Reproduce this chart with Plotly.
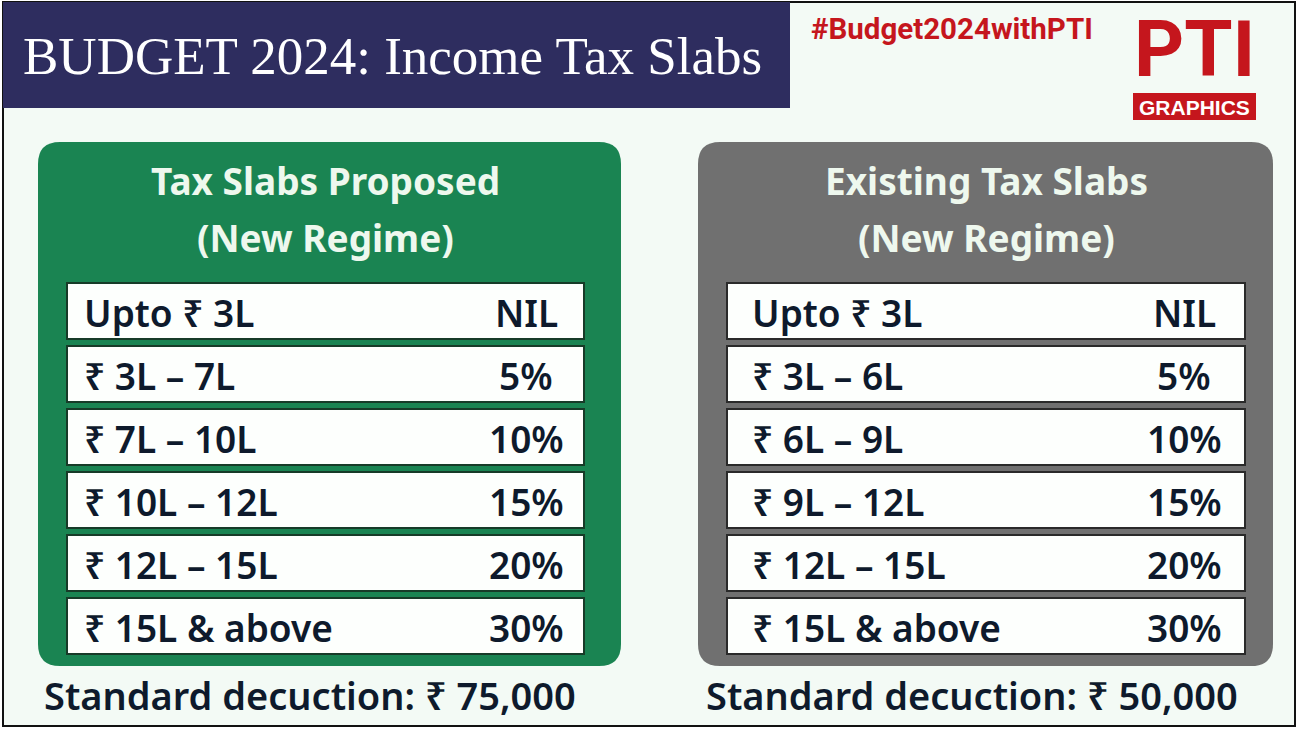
import plotly.graph_objects as go

# ---------------- data ----------------
title_text = "BUDGET 2024: Income Tax Slabs"
hashtag = "#Budget2024withPTI"
panel_titles = ["Tax Slabs Proposed<br>(New Regime)", "Existing Tax Slabs<br>(New Regime)"]
proposed_slabs = ["Upto ₹ 3L", "₹ 3L – 7L", "₹ 7L – 10L", "₹ 10L – 12L", "₹ 12L – 15L", "₹ 15L & above"]
proposed_rates = ["NIL", "5%", "10%", "15%", "20%", "30%"]
existing_slabs = ["Upto ₹ 3L", "₹ 3L – 6L", "₹ 6L – 9L", "₹ 9L – 12L", "₹ 12L – 15L", "₹ 15L & above"]
existing_rates = ["NIL", "5%", "10%", "15%", "20%", "30%"]
deductions = ["Standard decuction: ₹ 75,000", "Standard decuction: ₹ 50,000"]

# ---------------- styling ----------------
W, H = 1309, 729
BG = "#f3faf5"
NAVY = "#2e2d5f"
GREEN = "#1a8452"
GREY = "#707070"
DARK = "#0e1a2c"
RED = "#c5161d"
SANS = "Noto Sans"

def rrect(x0, y0, x1, y1, r):
    return (f"M{x0+r},{y0} L{x1-r},{y0} Q{x1},{y0} {x1},{y0+r} "
            f"L{x1},{y1-r} Q{x1},{y1} {x1-r},{y1} L{x0+r},{y1} "
            f"Q{x0},{y1} {x0},{y1-r} L{x0},{y0+r} Q{x0},{y0} {x0+r},{y0} Z")

shapes = []
ann = []

# page background + frame
shapes.append(dict(type="rect", x0=0, y0=0, x1=W, y1=H, fillcolor="#ffffff", line=dict(width=0), layer="below"))
shapes.append(dict(type="rect", x0=3, y0=2, x1=1295, y1=726, fillcolor=BG, line=dict(color="#111111", width=2), layer="below"))
# title band
shapes.append(dict(type="rect", x0=3, y0=2, x1=790, y1=108, fillcolor=NAVY, line=dict(width=0)))
ann.append(dict(x=21, y=56, text=title_text, xanchor="left", yanchor="middle", showarrow=False,
                font=dict(family="Liberation Serif", size=53, color="#ffffff")))
# hashtag
ann.append(dict(x=809, y=29, text=hashtag, xanchor="left", yanchor="middle", showarrow=False,
                font=dict(family="Roboto", size=29.5, color=RED, weight="bold")))
# PTI logo
ann.append(dict(x=1194, y=49, text="PTI", xanchor="center", yanchor="middle", showarrow=False,
                font=dict(family="Roboto", size=78, color=RED, weight="bold")))
shapes.append(dict(type="rect", x0=1133, y0=93, x1=1256, y1=120, fillcolor=RED, line=dict(width=0)))
ann.append(dict(x=1194.5, y=107, text="GRAPHICS", xanchor="center", yanchor="middle", showarrow=False,
                font=dict(family="Liberation Sans", size=21, color="#ffffff", weight="bold")))

panels = [
    dict(x0=38, x1=621, color=GREEN, rowx0=67, rowx1=584, textx=82, ratex=526, hx=325, dx=42,
         slabs=proposed_slabs, rates=proposed_rates, border="#173b28"),
    dict(x0=698, x1=1273, color=GREY, rowx0=727, rowx1=1245, textx=750, ratex=1184, hx=986, dx=704,
         slabs=existing_slabs, rates=existing_rates, border="#2a2a2a"),
]

for p, ptitle, ded in zip(panels, panel_titles, deductions):
    shapes.append(dict(type="path", path=rrect(p["x0"], 142, p["x1"], 666, 22),
                       fillcolor=p["color"], line=dict(width=0)))
    t1, t2 = ptitle.split("<br>")
    ann.append(dict(x=p["hx"], y=180, text=t1, xanchor="center", yanchor="middle", showarrow=False,
                    font=dict(family=SANS, size=37, color="#eef8ee", weight="bold")))
    ann.append(dict(x=p["hx"], y=237, text=t2, xanchor="center", yanchor="middle", showarrow=False,
                    font=dict(family=SANS, size=37, color="#eef8ee", weight="bold")))
    for i, (s, r) in enumerate(zip(p["slabs"], p["rates"])):
        y0 = 283 + 63 * i
        shapes.append(dict(type="rect", x0=p["rowx0"], y0=y0, x1=p["rowx1"], y1=y0 + 56,
                           fillcolor="#fdfffd", line=dict(color=p["border"], width=2)))
        ann.append(dict(x=p["textx"], y=y0 + 29, text=s, xanchor="left", yanchor="middle", showarrow=False,
                        font=dict(family=SANS, size=37, color=DARK, weight=600)))
        ann.append(dict(x=p["ratex"], y=y0 + 29, text=r, xanchor="center", yanchor="middle", showarrow=False,
                        font=dict(family=SANS, size=37, color=DARK, weight=600)))
    ann.append(dict(x=p["dx"], y=695, text=ded, xanchor="left", yanchor="middle", showarrow=False,
                    font=dict(family=SANS, size=38, color=DARK, weight=600)))

fig = go.Figure()
fig.update_layout(
    width=W, height=H, margin=dict(l=0, r=0, t=0, b=0),
    paper_bgcolor="#ffffff", plot_bgcolor="#ffffff",
    xaxis=dict(range=[0, W], visible=False, fixedrange=True),
    yaxis=dict(range=[H, 0], visible=False, fixedrange=True),
    shapes=shapes, annotations=ann, showlegend=False,
)
fig.write_html("out.html", config={"displayModeBar": False},
               post_script="document.body.style.margin='0';document.body.style.overflow='hidden';")
